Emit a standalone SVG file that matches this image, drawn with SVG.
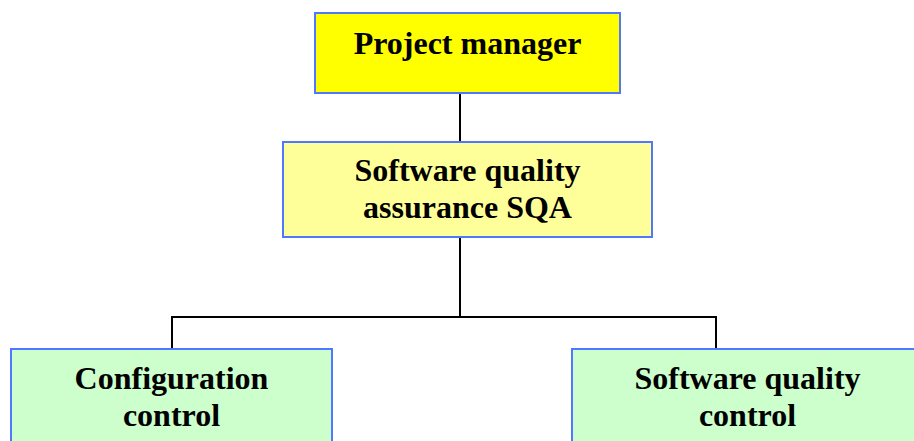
<svg xmlns="http://www.w3.org/2000/svg" width="914" height="441" viewBox="0 0 914 441">
<style>
.box{stroke:#4f77ff;stroke-width:2}
.t{font-family:"Liberation Serif","Times New Roman",serif;font-weight:bold;font-size:32px;fill:#000;text-anchor:middle}
.c{stroke:#000;stroke-width:2;fill:none}
</style>
<rect width="914" height="441" fill="#fff"/>
<g id="connectors">
<line class="c" x1="460" y1="93" x2="460" y2="142"/>
<polyline class="c" points="460,237 460,317"/>
<polyline class="c" points="172,349 172,317 716,317 716,349"/>
</g>
<g id="project-manager">
<rect class="box" x="315" y="13" width="305" height="80" fill="#ffff00"/>
<text class="t" x="467.5" y="54">Project manager</text>
</g>
<g id="sqa">
<rect class="box" x="283" y="142" width="369" height="95" fill="#ffff99"/>
<text class="t" x="467.5" y="181">Software quality</text>
<text class="t" x="467.5" y="218">assurance SQA</text>
</g>
<g id="configuration-control">
<rect class="box" x="11" y="349" width="321" height="110" fill="#ccffcc"/>
<text class="t" x="171.5" y="389">Configuration</text>
<text class="t" x="171.5" y="426">control</text>
</g>
<g id="sw-quality-control">
<rect class="box" x="572" y="349" width="351" height="110" fill="#ccffcc"/>
<text class="t" x="747.5" y="389">Software quality</text>
<text class="t" x="747.5" y="426">control</text>
</g>
</svg>
